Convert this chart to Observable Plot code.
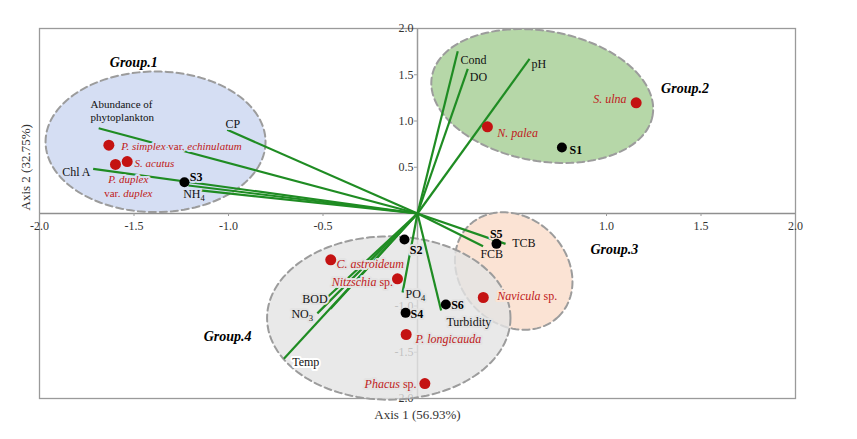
<!DOCTYPE html>
<html><head><meta charset="utf-8">
<script src="https://cdn.jsdelivr.net/npm/d3@7"></script>
<script src="https://cdn.jsdelivr.net/npm/@observablehq/plot@0.6"></script>
<style>
body{margin:0;background:#fff;}
#chart svg{display:block;}
</style>
</head><body><div id="chart"></div>
<script>
// ---------- data ----------
const xTickValues = [-2.0, -1.5, -1.0, -0.5, 1.0, 1.5, 2.0];
const yTickValues = [2.0, 1.5, 1.0, 0.5, -1.0, -1.5, -2.0];
const xTitle = "Axis 1 (56.93%)";
const yTitle = "Axis 2 (32.75%)";

// environmental vectors (end points)
const varNames = ["CP", "Abundance of phytoplankton", "Chl A", "NH4", "", "Cond", "DO", "pH", "TCB", "FCB", "Turbidity", "PO4", "BOD", "NO3", "", "Temp"];
const varX = [-1.007, -1.687, -1.716, -1.212, -1.150, 0.213, 0.266, 0.593, 0.466, 0.347, 0.125, -0.079, -0.490, -0.530, -0.460, -0.707];
const varY = [0.905, 0.922, 0.483, 0.303, 0.250, 1.755, 1.564, 1.672, -0.328, -0.353, -1.049, -0.854, -0.930, -1.080, -1.030, -1.571];

// sampling sites
const siteNames = ["S1", "S2", "S3", "S4", "S5", "S6"];
const siteX = [0.764, -0.069, -1.233, -0.063, 0.418, 0.150];
const siteY = [0.713, -0.281, 0.338, -1.074, -0.328, -0.984];

// species
const speciesNames = ["P. simplex var. echinulatum", "S. acutus", "P. duplex var. duplex", "N. palea", "S. ulna", "C. astroideum", "Nitzschia sp.", "P. longicauda", "Phacus sp.", "Navicula sp."];
const speciesX = [-1.633, -1.536, -1.598, 0.370, 1.157, -0.459, -0.106, -0.060, 0.039, 0.348];
const speciesY = [0.738, 0.562, 0.530, 0.937, 1.197, -0.501, -0.706, -1.308, -1.838, -0.908];

// groups (ellipses)
const groupNames = ["Group.1", "Group.2", "Group.3", "Group.4"];
const groupCx = [-1.386, 0.660, 0.509, -0.152];
const groupCy = [0.775, 1.270, -0.622, -1.130];
const groupRx = [0.582, 0.593, 0.338, 0.644];
const groupRy = [0.760, 0.703, 0.575, 0.883];
const groupTilt = [0, 10, 45, 0];

// label texts (markup: *italic*, ~subscript) and their anchors in data units
const labelText = [
  "Abundance of\nphytoplankton", "CP", "Chl A", "NH~4", "Cond", "DO", "pH", "TCB", "FCB", "Turbidity", "PO~4", "BOD", "NO~3", "Temp",
  "S1", "S2", "S3", "S4", "S5", "S6",
  "*P. simplex* var. *echinulatum*", "*S. acutus*", "*P. duplex*", "var. *duplex*", "*N. palea*", "*S. ulna*", "*C. astroideum*", "*Nitzschia* sp.", "*P. longicauda*", "*Phacus* sp.", "*Navicula* sp.",
  "Group.1", "Group.2", "Group.3", "Group.4"
];
const labelX = [
  -1.730, -1.016, -1.880, -1.240, 0.228, 0.277, 0.603, 0.501, 0.333, 0.153, -0.063, -0.610, -0.667, -0.663,
  0.804, -0.041, -1.205, -0.037, 0.383, 0.178,
  -1.568, -1.497, -1.530, -1.530, 0.422, 1.106, -0.429, -0.129, -0.011, -0.005, 0.422,
  -1.628, 1.289, 0.915, -1.131
];
const labelY = [
  1.114, 0.970, 0.457, 0.213, 1.662, 1.481, 1.618, -0.310, -0.429, -1.168, -0.868, -0.916, -1.084, -1.600,
  0.689, -0.392, 0.403, -1.078, -0.219, -0.987,
  0.728, 0.544, 0.375, 0.224, 0.879, 1.240, -0.544, -0.735, -1.355, -1.835, -0.886,
  1.636, 1.355, -0.382, -1.319
];
// kind: v = variable, s = site, p = species, g = group title
const labelKind = [
  "v","v","v","v","v","v","v","v","v","v","v","v","v","v",
  "s","s","s","s","s","s",
  "p","p","p","p","p","p","p","p","p","p","p",
  "g","g","g","g"
];
const labelAlign = [
  "start","start","start","start","start","start","start","start","start","start","start","start","start","start",
  "start","start","start","start","start","start",
  "start","start","middle","middle","start","end","start","end","start","end","start",
  "start","start","start","start"
];
// which ellipse each label sits in (-1 = on white)
const labelGroup = [
  0,0,0,0,1,1,1,2,2,3,3,3,3,-1,
  1,3,0,3,2,3,
  0,0,0,0,1,1,3,3,3,3,2,
  -1,-1,-1,-1
];

// ---------- styles ----------
const W = 857, H = 439;
const ML = 39, MR = 62, MT = 28, MB = 41;
const kx = (W - ML - MR) / 4, ky = (H - MT - MB) / 4;
const groupFill = ["#d5def3", "#b6d7a8", "#fbe3d4", "#e3e3e3"];
const groupFillOpacity = [1, 1, 1, 0.8];
const GREEN = "#1f8c23";
const RED = "#c41212";
const RED_TEXT = "#c01a20";
const FONT = "'Liberation Serif', 'Times New Roman', serif";

function ellipsePts(i) {
  const th = groupTilt[i] * Math.PI / 180;
  return d3.range(0, 360, 3).map(deg => {
    const t = deg * Math.PI / 180;
    const u = groupRx[i] * kx * Math.cos(t), v = groupRy[i] * ky * Math.sin(t);
    const px = u * Math.cos(th) - v * Math.sin(th);
    const py = u * Math.sin(th) + v * Math.cos(th);
    return {x: groupCx[i] + px / kx, y: groupCy[i] - py / ky};
  });
}

const vectors = varNames.map((n, i) => ({n, x: varX[i], y: varY[i]}));
const sites = siteNames.map((n, i) => ({n, x: siteX[i], y: siteY[i]}));
const species = speciesNames.map((n, i) => ({n, x: speciesX[i], y: speciesY[i]}));
const labels = labelText.map((t, i) => ({
  t, x: labelX[i], y: labelY[i], kind: labelKind[i], align: labelAlign[i],
  halo: labelGroup[i] < 0 ? "#ffffff" : groupFill[labelGroup[i]],
  size: (labelGroup[i] === 0 && (labelKind[i] === "p" || i === 0)) ? 11 : 12
}));

const tickLenX = 3 / kx, tickLenY = 3 / ky;

const kindStyle = {
  v: {fill: "#111"},
  s: {fill: "#000", fontWeight: "bold"},
  p: {fill: RED_TEXT},
  g: {fill: "#000", fontWeight: "bold", fontStyle: "italic", fontSize: 14}
};

function labelMarks(kind, halo) {
  return ["start", "middle", "end"].map(a => Plot.text(labels.filter(d => d.kind === kind && d.align === a), {
    x: "x", y: "y", text: "t", textAnchor: a, lineAnchor: "middle", lineHeight: 1.15,
    fontSize: "size",
    ...kindStyle[kind],
    ...(halo ? {fill: "none", stroke: "halo", strokeWidth: 4, strokeLinejoin: "round"} : {})
  }));
}

const kinds = ["v", "s", "p"];

const plot = Plot.plot({
  width: W, height: H,
  marginLeft: ML, marginRight: MR, marginTop: MT, marginBottom: MB,
  x: {domain: [-2, 2], axis: null},
  y: {domain: [-2, 2], axis: null},
  color: {type: "identity"},
  style: {fontFamily: FONT, fontSize: "12px", background: "#fff", overflow: "visible"},
  marks: [
    Plot.frame({stroke: "#9a9a9a", strokeWidth: 1.3}),
    Plot.ruleY([0], {stroke: "#8f8f8f", strokeWidth: 1.5}),
    Plot.ruleX([0], {stroke: "#9a9a9a", strokeWidth: 1.5}),
    Plot.ruleX(xTickValues, {x: d => d, y1: 0, y2: -tickLenY, stroke: "#9a9a9a"}),
    Plot.ruleY(yTickValues, {y: d => d, x1: -tickLenX, x2: 0, stroke: "#9a9a9a"}),
    Plot.text(xTickValues, {x: d => d, y: 0, text: d => d.toFixed(1), dy: 13, fill: "#333", fontSize: 12}),
    Plot.text(yTickValues, {x: 0, y: d => d, text: d => d.toFixed(1), dx: -4, textAnchor: "end", fill: "#333", fontSize: 12}),
    Plot.text([xTitle], {x: 0, frameAnchor: "bottom", dy: 20, text: d => d, fill: "#333", fontSize: 13}),
    Plot.text([yTitle], {y: 0, frameAnchor: "left", dx: -14, dy: -3, rotate: -90, text: d => d, fill: "#333", fontSize: 13}),
    ...groupNames.map((g, i) => Plot.line(ellipsePts(i), {
      x: "x", y: "y", curve: "linear-closed",
      fill: groupFill[i], fillOpacity: groupFillOpacity[i],
      stroke: "#9c9c9c", strokeWidth: 2, strokeDasharray: "7,4"
    })),
    Plot.link(vectors, {x1: 0, y1: 0, x2: "x", y2: "y", stroke: GREEN, strokeWidth: 2.2}),
    ...kinds.flatMap(k => labelMarks(k, true)),
    Plot.dot(species, {x: "x", y: "y", r: 5.5, fill: RED}),
    Plot.dot(sites, {x: "x", y: "y", r: 5, fill: "#000"}),
    ...kinds.flatMap(k => labelMarks(k, false)),
    ...labelMarks("g", false)
  ]
});

// rich text: *italic* and ~subscript
const NS = "http://www.w3.org/2000/svg";
plot.querySelectorAll("text").forEach(t => {
  const targets = t.querySelector("tspan") ? Array.from(t.querySelectorAll("tspan")) : [t];
  targets.forEach(el => {
    const s = el.textContent;
    if (!/[*~]/.test(s)) return;
    el.textContent = "";
    s.split(/(\*[^*]+\*|~\d)/).filter(p => p).forEach(p => {
      const sp = document.createElementNS(NS, "tspan");
      if (p[0] === "*") { sp.setAttribute("font-style", "italic"); sp.textContent = p.slice(1, -1); }
      else if (p[0] === "~") { sp.setAttribute("font-size", "0.72em"); sp.setAttribute("dy", "0.35em"); sp.textContent = p.slice(1); }
      else sp.textContent = p;
      el.appendChild(sp);
    });
  });
});

document.getElementById("chart").appendChild(plot);
</script>
</body></html>
